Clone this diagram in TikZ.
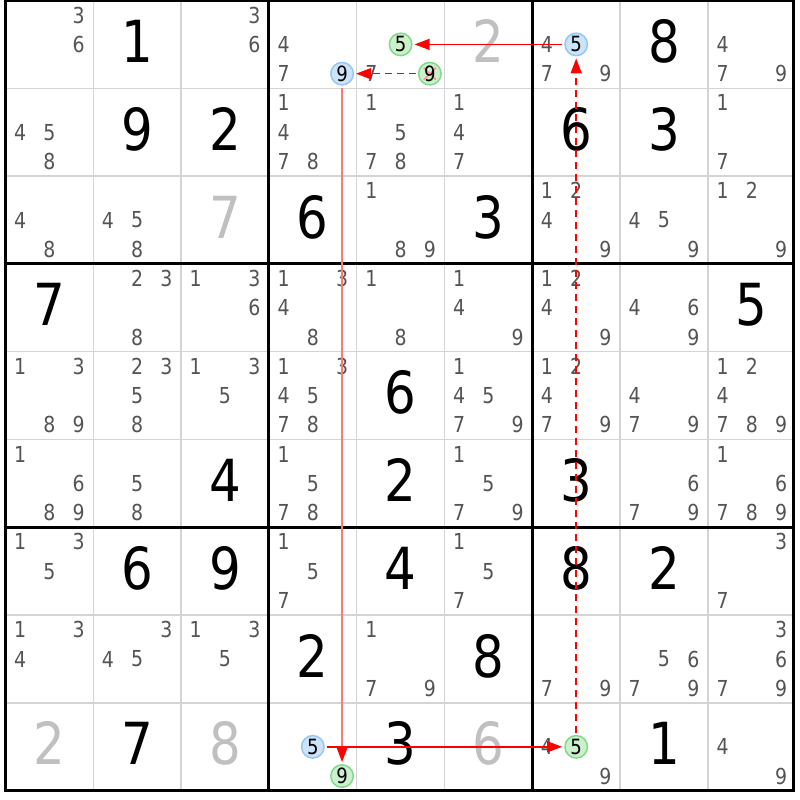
\documentclass[tikz,border=0pt]{standalone}
\usepackage{fontspec}
\setmainfont{DejaVu Sans}[FakeStretch=0.86]
\usetikzlibrary{arrows.meta}
\definecolor{candgray}{RGB}{84,84,84}
\definecolor{lightdig}{RGB}{192,192,192}
\definecolor{gridgray}{RGB}{212,212,212}
\definecolor{bluefill}{RGB}{204,228,250}
\definecolor{bluedraw}{RGB}{150,198,245}
\definecolor{greenfill}{RGB}{204,240,204}
\definecolor{greendraw}{RGB}{128,218,140}
\definecolor{pinkline}{RGB}{255,120,120}
\definecolor{crossred}{RGB}{250,150,150}
\newcommand{\sdcands}[3]{%
  \foreach \d in {#3}{%
    \pgfmathsetmacro\px{5.5+(#2-1)*87.8+(mod(\d-1,3)*2+1)*87.8/6}%
    \pgfmathsetmacro\py{0.5+(#1-1)*87.8+(floor((\d-1)/3)*2+1)*87.8/6}%
    \node[cand] (k#1#2\d) at (\px,\py) {\d};}}
\newcommand{\sdval}[4]{%
  \pgfmathsetmacro\px{5.5+(#2-0.5)*87.8}%
  \pgfmathsetmacro\py{0.5+(#1-1)*87.8+62}%
  \node[big,#4,anchor=base] (v#1#2) at (\px,\py) {#3};}
% \sdring{name}{row}{col}{digit}{style}
\newcommand{\sdring}[5]{%
  \pgfmathsetmacro\px{5.5+(#3-1)*87.8+(mod(#4-1,3)*2+1)*87.8/6}%
  \pgfmathsetmacro\py{0.5+(#2-1)*87.8+(floor((#4-1)/3)*2+1)*87.8/6}%
  \node[ring,#5] (#1) at (\px,\py) {#4};}
\begin{document}
\begin{tikzpicture}[x=1pt,y=-1pt,
  cand/.style={inner sep=0pt,text=candgray,font=\fontsize{22}{24}\selectfont},
  big/.style={inner sep=0pt,font=\fontsize{58}{60}\selectfont},
  givenval/.style={text=black},
  userval/.style={text=lightdig},
  ring/.style={circle,inner sep=0pt,minimum size=22.5pt,line width=1.5pt,text=black,font=\fontsize{21}{22}\selectfont},
  bluering/.style={draw=bluedraw,fill=bluefill},
  greenring/.style={draw=greendraw,fill=greenfill},
  gridthin/.style={draw=gridgray,line width=1.5pt},
  gridthick/.style={draw=black,line width=3pt},
  link/.style={draw=red,line width=1.4pt,-{Triangle[length=15pt,width=11pt]},shorten >=2pt,shorten <=2pt},
  linkpink/.style={draw=pinkline,line width=1.4pt,-{Triangle[length=15pt,width=11pt,color=red]},shorten >=2pt,shorten <=2pt},
  weak/.style={line width=1.6pt,dash pattern=on 7pt off 5pt}]
\useasboundingbox (0,0) rectangle (800,800);
\fill[white] (0,0) rectangle (800,800);
% grid
\foreach \i in {1,2,4,5,7,8}{
  \draw[gridthin] ({5.5+\i*87.8},0.5) -- ({5.5+\i*87.8},790.7);
  \draw[gridthin] (5.5,{0.5+\i*87.8}) -- (793,{0.5+\i*87.8});
}
\foreach \i in {3,6}{
  \draw[gridthick] ({5.5+\i*87.8},0.5) -- ({5.5+\i*87.8},790.7);
  \draw[gridthick] (5.5,{0.5+\i*87.8}) -- (793,{0.5+\i*87.8});
}
\draw[gridthick] (5.5,0.5) rectangle (793,790.7);
% given values
\sdval{1}{2}{1}{givenval}
\sdval{1}{8}{8}{givenval}
\sdval{2}{2}{9}{givenval}
\sdval{2}{3}{2}{givenval}
\sdval{2}{7}{6}{givenval}
\sdval{2}{8}{3}{givenval}
\sdval{3}{4}{6}{givenval}
\sdval{3}{6}{3}{givenval}
\sdval{4}{1}{7}{givenval}
\sdval{4}{9}{5}{givenval}
\sdval{5}{5}{6}{givenval}
\sdval{6}{3}{4}{givenval}
\sdval{6}{5}{2}{givenval}
\sdval{6}{7}{3}{givenval}
\sdval{7}{2}{6}{givenval}
\sdval{7}{3}{9}{givenval}
\sdval{7}{5}{4}{givenval}
\sdval{7}{7}{8}{givenval}
\sdval{7}{8}{2}{givenval}
\sdval{8}{4}{2}{givenval}
\sdval{8}{6}{8}{givenval}
\sdval{9}{2}{7}{givenval}
\sdval{9}{5}{3}{givenval}
\sdval{9}{8}{1}{givenval}
% placed values
\sdval{1}{6}{2}{userval}
\sdval{3}{3}{7}{userval}
\sdval{9}{1}{2}{userval}
\sdval{9}{3}{8}{userval}
\sdval{9}{6}{6}{userval}
% candidates
\sdcands{1}{1}{3,6}
\sdcands{1}{3}{3,6}
\sdcands{1}{4}{4,7}
\sdcands{1}{5}{7}
\sdcands{1}{7}{4,7,9}
\sdcands{1}{9}{4,7,9}
\sdcands{2}{1}{4,5,8}
\sdcands{2}{4}{1,4,7,8}
\sdcands{2}{5}{1,5,7,8}
\sdcands{2}{6}{1,4,7}
\sdcands{2}{9}{1,7}
\sdcands{3}{1}{4,8}
\sdcands{3}{2}{4,5,8}
\sdcands{3}{5}{1,8,9}
\sdcands{3}{7}{1,2,4,9}
\sdcands{3}{8}{4,5,9}
\sdcands{3}{9}{1,2,9}
\sdcands{4}{2}{2,3,8}
\sdcands{4}{3}{1,3,6}
\sdcands{4}{4}{1,3,4,8}
\sdcands{4}{5}{1,8}
\sdcands{4}{6}{1,4,9}
\sdcands{4}{7}{1,2,4,9}
\sdcands{4}{8}{4,6,9}
\sdcands{5}{1}{1,3,8,9}
\sdcands{5}{2}{2,3,5,8}
\sdcands{5}{3}{1,3,5}
\sdcands{5}{4}{1,3,4,5,7,8}
\sdcands{5}{6}{1,4,5,7,9}
\sdcands{5}{7}{1,2,4,7,9}
\sdcands{5}{8}{4,7,9}
\sdcands{5}{9}{1,2,4,7,8,9}
\sdcands{6}{1}{1,6,8,9}
\sdcands{6}{2}{5,8}
\sdcands{6}{4}{1,5,7,8}
\sdcands{6}{6}{1,5,7,9}
\sdcands{6}{8}{6,7,9}
\sdcands{6}{9}{1,6,7,8,9}
\sdcands{7}{1}{1,3,5}
\sdcands{7}{4}{1,5,7}
\sdcands{7}{6}{1,5,7}
\sdcands{7}{9}{3,7}
\sdcands{8}{1}{1,3,4}
\sdcands{8}{2}{3,4,5}
\sdcands{8}{3}{1,3,5}
\sdcands{8}{5}{1,7,9}
\sdcands{8}{7}{7,9}
\sdcands{8}{8}{5,6,7,9}
\sdcands{8}{9}{3,6,7,9}
\sdcands{9}{7}{4,9}
\sdcands{9}{9}{4,9}
% highlighted candidates
\sdring{b149}{1}{4}{9}{bluering}
\sdring{g155}{1}{5}{5}{greenring}
\sdring{b175}{1}{7}{5}{bluering}
\sdring{b945}{9}{4}{5}{bluering}
\sdring{g949}{9}{4}{9}{greenring}
\sdring{g975}{9}{7}{5}{greenring}
\pgfmathsetmacro\qx{5.5+4*87.8+5*87.8/6}
\pgfmathsetmacro\qy{0.5+5*87.8/6}
\node[ring,greenring] (g159) at (\qx,\qy) {};
\draw[crossred,line width=1.8pt] ([shift={(-6,-6)}]g159.center) -- ([shift={(6,6)}]g159.center)
  ([shift={(-6,6)}]g159.center) -- ([shift={(6,-6)}]g159.center);
\node[ring] (g159t) at (g159.center) {9};
% links
\draw[link] (b175) -- (g155);
\draw[link,weak] (g159) -- (b149);
\draw[linkpink] (b149) -- (g949);
\draw[link] (b945) -- (g975);
\draw[link,weak] (g975) -- (b175);
\end{tikzpicture}
\end{document}
